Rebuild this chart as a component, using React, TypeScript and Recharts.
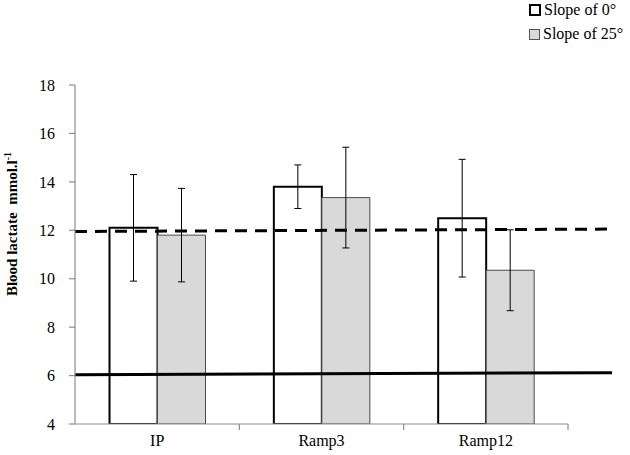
import { Bar, ComposedChart, ErrorBar, Line, XAxis, YAxis } from "recharts";

// values
const categories = ["IP", "Ramp3", "Ramp12"];
const slope0 = [12.1, 13.8, 12.5];
const slope0Err = [2.2, 0.9, 2.43];
const slope25 = [11.8, 13.35, 10.35];
const slope25Err = [1.93, 2.08, 1.67];
const yTicks = [4, 6, 8, 10, 12, 14, 16, 18];

// the two threshold lines drawn across the plot (slightly sloped in the original)
const dashedLine = [
  { x: 0, y: 11.95 },
  { x: 1, y: 12.05 }
];
const solidLine = [
  { x: 0, y: 6.03 },
  { x: 1, y: 6.12 }
];

const data = categories.map((name, i) => ({
  name,
  s0: slope0[i],
  e0: slope0Err[i],
  s25: slope25[i],
  e25: slope25Err[i]
}));

const serif = "'Liberation Serif', 'Times New Roman', serif";

function CategoryTick(props: any) {
  const { x, y, payload } = props;
  const half = payload?.offset || 82;
  return (
    <g>
      <line x1={x - half} x2={x + half} y1={y} y2={y} stroke="#8c8c8c" strokeWidth={1.2} />
      <line x1={x + half} x2={x + half} y1={y} y2={y + 6} stroke="#8c8c8c" strokeWidth={1.2} />
      <text x={x} y={y + 22} textAnchor="middle" fill="#000" fontSize={16} fontFamily={serif}>
        {payload.value}
      </text>
    </g>
  );
}

function LegendBox() {
  const row = { display: "flex", alignItems: "center", height: 24 } as const;
  return (
    <div style={{ position: "absolute", left: 529, top: -2, fontFamily: serif, fontSize: 16, color: "#000" }}>
      <div style={row}>
        <span style={{ width: 8, height: 8, border: "2px solid #000", background: "#fff", marginRight: 3 }} />
        Slope of 0°
      </div>
      <div style={row}>
        <span style={{ width: 9, height: 9, border: "1px solid #555", background: "#d9d9d9", marginRight: 3 }} />
        Slope of 25°
      </div>
    </div>
  );
}

export default function App() {
  return (
    <div style={{ position: "absolute", left: 0, top: 0, width: 630, height: 455, background: "#fff" }}>
      <ComposedChart
        width={630}
        height={455}
        data={data}
        margin={{ top: 85, right: 18, bottom: 0, left: 15 }}
        barCategoryGap="21%"
        barGap={0}
      >
        <XAxis
          dataKey="name"
          padding={{ left: 0, right: 44 }}
          height={31}
          axisLine={false}
          tickLine={false}
          tickSize={0}
          tickMargin={0}
          interval={0}
          tick={<CategoryTick />}
        />
        <XAxis xAxisId="ref" type="number" dataKey="x" domain={[0, 1]} hide />
        <YAxis
          width={60}
          domain={[4, 18]}
          ticks={yTicks}
          allowDataOverflow
          axisLine={{ stroke: "#8c8c8c", strokeWidth: 1.2 }}
          tickLine={{ stroke: "#8c8c8c", strokeWidth: 1.2 }}
          tickSize={6}
          tickMargin={14}
          tick={{ fill: "#000", fontSize: 16, fontFamily: serif }}
        />
        <Bar dataKey="s0" fill="#fff" stroke="#000" strokeWidth={2} isAnimationActive={false}>
          <ErrorBar dataKey="e0" width={3.5} stroke="#000" strokeWidth={1} direction="y" />
        </Bar>
        <Bar dataKey="s25" fill="#d9d9d9" stroke="#4a4a4a" strokeWidth={1} isAnimationActive={false}>
          <ErrorBar dataKey="e25" width={3.5} stroke="#000" strokeWidth={1} direction="y" />
        </Bar>
        <Line
          xAxisId="ref"
          data={dashedLine}
          dataKey="y"
          type="linear"
          stroke="#000"
          strokeWidth={3}
          strokeDasharray="12 8"
          dot={false}
          activeDot={false}
          isAnimationActive={false}
        />
        <Line
          xAxisId="ref"
          data={solidLine}
          dataKey="y"
          type="linear"
          stroke="#000"
          strokeWidth={3}
          dot={false}
          activeDot={false}
          isAnimationActive={false}
        />
        <text
          x={17}
          y={224}
          transform="rotate(-90, 17, 224)"
          textAnchor="middle"
          fill="#000"
          fontSize={15}
          fontWeight="bold"
          fontFamily={serif}
        >
          Blood lactate{"\u00a0\u00a0"}mmol.l
          <tspan fontSize={10} dy={-6}>-1</tspan>
        </text>
      </ComposedChart>
      <LegendBox />
    </div>
  );
}
